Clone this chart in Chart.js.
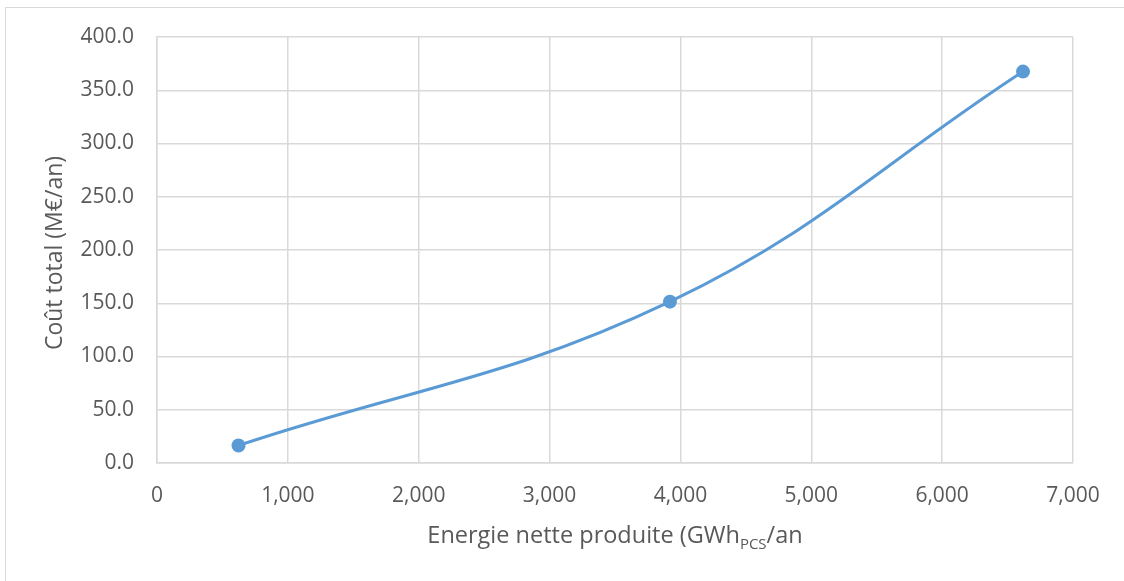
<!DOCTYPE html>
<html>
<head>
<meta charset="utf-8">
<script src="https://cdn.jsdelivr.net/npm/chart.js@4/dist/chart.umd.min.js"></script>
<style>
  html, body { margin: 0; padding: 0; background: #fff; }
  #wrap { position: absolute; left: 0; top: 0; width: 1124px; height: 581px; overflow: hidden; }
  #frame { position: absolute; left: 5px; top: 7px; width: 1200px; height: 700px;
           border-left: 1.5px solid #d9d9d9; border-top: 1.5px solid #d9d9d9; }
  canvas { position: absolute; left: 0; top: 0; }
</style>
</head>
<body>
<div id="wrap">
  <div id="frame"></div>
  <canvas id="c" width="1124" height="581"></canvas>
</div>
<script>
// Net energy produced (GWh PCS / year) vs total cost (M€ / year)
const energy = [623, 3920, 6618];
const cost = [16.5, 151.5, 367.5];

const xMin = 0, xMax = 7000, xStep = 1000;
const yMin = 0, yMax = 400, yStep = 50;

const xTitleMain = 'Energie nette produite (GWh';
const xTitleSub = 'PCS';
const xTitleEnd = '/an';
const yTitle = 'Coût total (M€/an)';

const FONT = '"Open Sans", "Noto Sans", sans-serif';
const TEXT = '#595959';
const GRID = '#d9d9d9';
const LINE = '#5b9bd5';

const points = energy.map((e, i) => ({ x: e, y: cost[i] }));

// Axis titles: the x title carries a subscript, the y title is rotated
const axisTitlePlugin = {
  id: 'axisTitles',
  afterDraw(chart) {
    const ctx = chart.ctx;
    const area = chart.chartArea;
    const big = '23.5px ' + FONT;
    const small = '15px ' + FONT;
    ctx.save();
    ctx.fillStyle = TEXT;
    ctx.textBaseline = 'alphabetic';
    ctx.textAlign = 'left';
    ctx.font = big;
    const w1 = ctx.measureText(xTitleMain).width;
    const w3 = ctx.measureText(xTitleEnd).width;
    ctx.font = small;
    const w2 = ctx.measureText(xTitleSub).width;
    const total = w1 + w2 + w3;
    let x = (area.left + area.right) / 2 - total / 2;
    const base = 543;
    ctx.font = big;
    ctx.fillText(xTitleMain, x, base);
    x += w1;
    ctx.font = small;
    ctx.fillText(xTitleSub, x, base + 6);
    x += w2;
    ctx.font = big;
    ctx.fillText(xTitleEnd, x, base);
    ctx.restore();

    ctx.save();
    ctx.fillStyle = TEXT;
    ctx.font = '23px ' + FONT;
    ctx.textAlign = 'center';
    ctx.textBaseline = 'middle';
    ctx.translate(55, 253);
    ctx.rotate(-Math.PI / 2);
    ctx.fillText(yTitle, 0, 0);
    ctx.restore();
  }
};

new Chart(document.getElementById('c'), {
  type: 'scatter',
  data: {
    datasets: [{
      data: points,
      showLine: true,
      tension: 0.4,
      borderColor: LINE,
      backgroundColor: LINE,
      borderWidth: 3,
      pointRadius: 7,
      pointHoverRadius: 7,
      pointBorderWidth: 0,
      pointBackgroundColor: LINE
    }]
  },
  options: {
    responsive: false,
    animation: false,
    devicePixelRatio: 1,
    layout: { padding: { top: 37, right: 51, left: 0, bottom: 0 } },
    plugins: {
      legend: { display: false },
      tooltip: { enabled: false }
    },
    scales: {
      x: {
        type: 'linear',
        min: xMin, max: xMax,
        afterFit(s) { s.height = 118; },
        grid: { color: GRID, lineWidth: 1.5, drawTicks: false },
        border: { color: GRID, width: 1.5 },
        ticks: {
          stepSize: xStep,
          padding: 20,
          color: TEXT,
          font: { family: FONT, size: 21 },
          maxRotation: 0,
          callback: v => v.toLocaleString('en-US')
        }
      },
      y: {
        min: yMin, max: yMax,
        afterFit(s) { s.width = 157; },
        grid: { color: GRID, lineWidth: 1.5, drawTicks: false },
        border: { color: GRID, width: 1.5 },
        ticks: {
          stepSize: yStep,
          padding: 23,
          color: TEXT,
          font: { family: FONT, size: 21 },
          callback: v => v.toFixed(1)
        }
      }
    }
  },
  plugins: [axisTitlePlugin]
});
</script>
</body>
</html>
